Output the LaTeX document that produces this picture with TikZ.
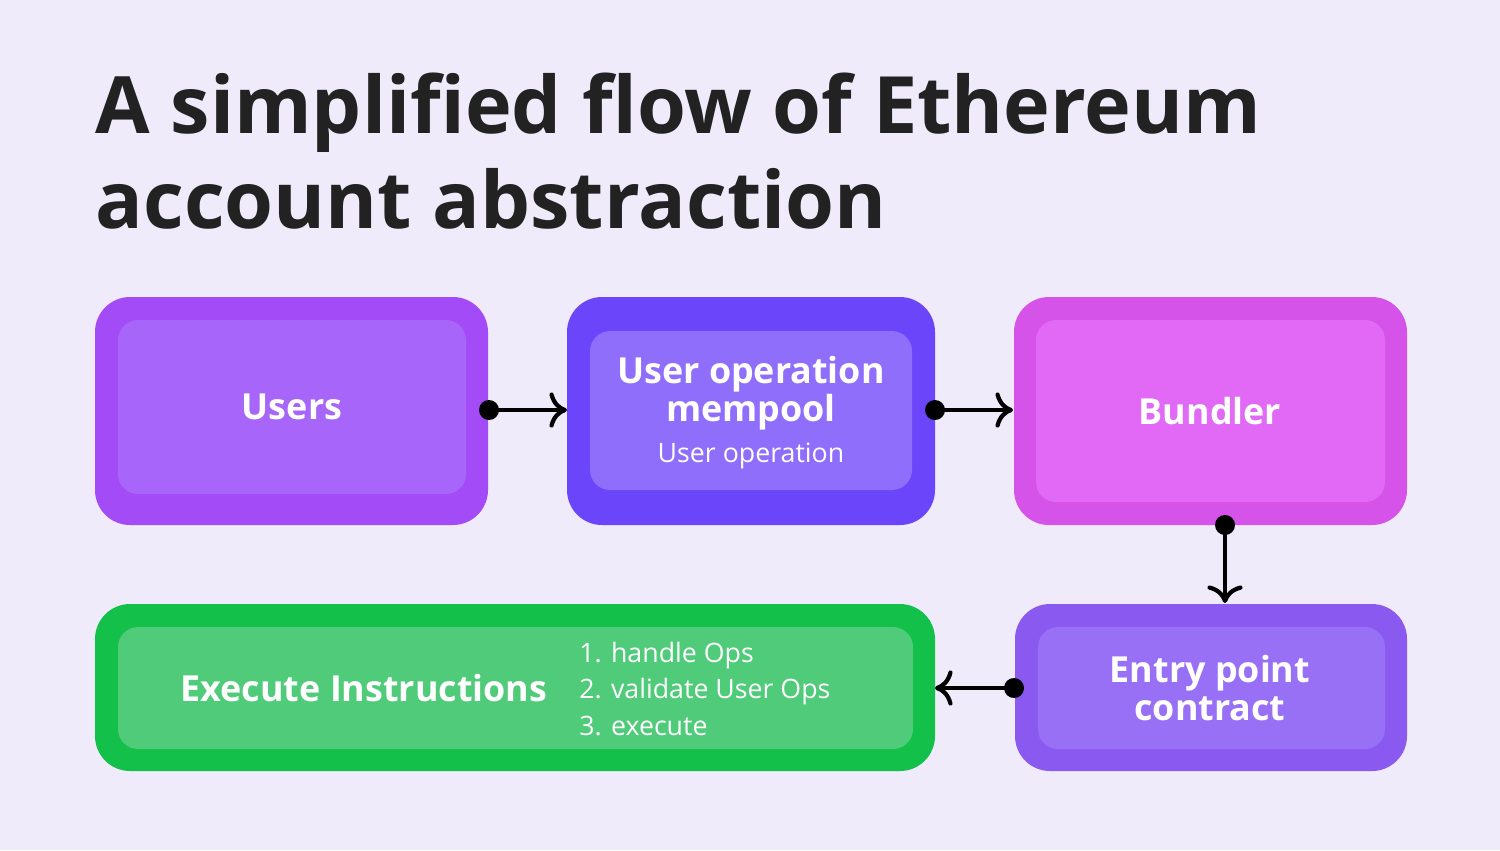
\documentclass[tikz,border=0pt]{standalone}
\usepackage{fontspec}
\setmainfont{Open Sans}
\usetikzlibrary{arrows.meta}
\definecolor{bg}{HTML}{EFEBFB}
\definecolor{title}{HTML}{222222}
\definecolor{uo}{HTML}{A34BF7}\definecolor{ui}{HTML}{A766F9}
\definecolor{mo}{HTML}{6A45F9}\definecolor{mi}{HTML}{8E6EFA}
\definecolor{bo}{HTML}{D553E8}\definecolor{bi}{HTML}{E169F6}
\definecolor{eo}{HTML}{8A5AF0}\definecolor{ei}{HTML}{9770F6}
\definecolor{xo}{HTML}{12C04A}\definecolor{xi}{HTML}{4FCB79}
\begin{document}
\begin{tikzpicture}[x=0.01cm,y=-0.01cm,
  outer/.style={rounded corners=0.35cm},
  inner/.style={rounded corners=0.2cm},
  lbl/.style={text=white,font=\fontsize{10.2}{12}\selectfont\bfseries,align=center},
  sub/.style={text=white,font=\fontsize{7.6}{9.3}\selectfont},
  conn/.style={line width=1.2pt,-{To[length=5pt,width=10pt]}},
  dot/.style={circle,fill=black,inner sep=0pt,minimum size=0.2cm}]
\fill[bg] (0,0) rectangle (1500,850);
\node[anchor=base west,text=title,font=\fontsize{22.5}{27}\selectfont\bfseries,inner sep=0] (t1) at (95,133) {A simplified flow of Ethereum};
\node[anchor=base west,text=title,font=\fontsize{22.5}{27}\selectfont\bfseries,inner sep=0] (t2) at (95,228) {account abstraction};
% Users
\fill[outer,fill=uo] (95,297) rectangle (488,525);
\fill[inner,fill=ui] (118,320) rectangle (466,494);
\node[lbl] (users) at (292,407) {Users};
% mempool
\fill[outer,fill=mo] (567,297) rectangle (935,525);
\fill[inner,fill=mi] (590,331) rectangle (912,490);
\node[lbl] (mem) at (751,393) {User operation\\[-1pt]mempool};
\node[sub] (memsub) at (751,456) {User operation};
% bundler
\fill[outer,fill=bo] (1014,297) rectangle (1407,525);
\fill[inner,fill=bi] (1036,320) rectangle (1385,502);
\node[lbl] (bund) at (1210,411) {Bundler};
% entry
\fill[outer,fill=eo] (1015,604) rectangle (1407,771);
\fill[inner,fill=ei] (1038,627) rectangle (1385,749);
\node[lbl] (entry) at (1210,688) {Entry point\\[-1pt]contract};
% execute
\fill[outer,fill=xo] (95,604) rectangle (935,771);
\fill[inner,fill=xi] (118,627) rectangle (913,749);
\node[lbl] (exec) at (364,688) {Execute Instructions};
\node[sub,anchor=west,align=left] (list) at (567,689) {1. handle Ops\\[1pt]2. validate User Ops\\[1pt]3. execute};
% connectors
\node[dot] (d1) at (489,410) {}; \coordinate (e1) at (567,410);
\node[dot] (d2) at (935,410) {}; \coordinate (e2) at (1013,410);
\node[dot] (d3) at (1225,525) {}; \coordinate (e3) at (1225,603);
\node[dot] (d4) at (1014,688) {}; \coordinate (e4) at (935,688);
\draw[conn] (d1.center) -- (e1);
\draw[conn] (d2.center) -- (e2);
\draw[conn] (d3.center) -- (e3);
\draw[conn] (d4.center) -- (e4);
\end{tikzpicture}
\end{document}
